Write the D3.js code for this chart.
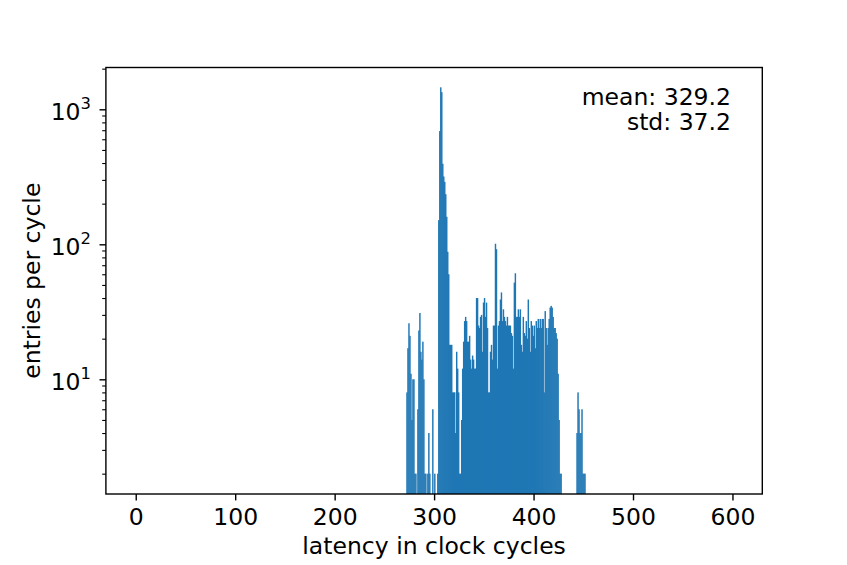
<!DOCTYPE html>
<html>
<head>
<meta charset="utf-8">
<script src="https://cdn.jsdelivr.net/npm/d3@7"></script>
<style>
  body { margin: 0; background: white; }
  text { font-family: "DejaVu Sans", sans-serif; fill: black; }
</style>
</head>
<body>
<div id="chart"></div>
<script>
var width = 847, height = 565;

// histogram of latencies, one bin per clock cycle, first bin = 272
var firstCycle = 272;
var counts = [
  8, 17, 26, 21, 11, 5, 10, 10, 2, 2,
  0, 6, 23, 31, 16, 14, 19, 10, 2, 2,
  0, 2, 4, 2, 0, 0, 6, 0, 2, 0,
  0, 2, 151, 690, 1455, 1340, 395, 318, 290, 235,
  160, 88, 60, 18, 18, 18, 8, 8, 8, 4,
  16, 12, 8, 2, 2, 5, 12, 19, 27, 29,
  27, 19, 19, 21, 14, 12, 15, 14, 12, 12,
  40, 40, 25, 24, 29, 30, 16, 37, 40, 29,
  37, 24, 8, 8, 16, 18, 14, 25, 25, 101,
  92, 12, 25, 27, 39, 44, 27, 33, 29, 27,
  25, 29, 25, 25, 25, 22, 21, 12, 52, 61,
  29, 29, 33, 29, 33, 18, 16, 29, 22, 21,
  27, 20, 39, 24, 16, 27, 25, 21, 25, 17,
  27, 24, 28, 24, 28, 24, 28, 28, 8, 32,
  24, 18, 24, 28, 34, 35, 34, 29, 24, 24,
  22, 20, 11, 5, 2, 2, 0, 0, 0, 0,
  0, 0, 0, 0, 0, 0, 0, 0, 0, 0,
  0, 4, 8, 6, 4, 4, 6, 2, 2, 2
];

var xTicks = [0, 100, 200, 300, 400, 500, 600];
var yMajor = [10, 100, 1000];
var yMinor = [2, 3, 4, 5, 6, 7, 8, 9, 20, 30, 40, 50, 60, 70, 80, 90,
              200, 300, 400, 500, 600, 700, 800, 900, 2000];
var statLines = ["mean: 329.2", "std: 37.2"];

// plot area (don't call it "top", window.top is read only)
var pLeft = 105.9, pRight = 762.3, pTop = 67.5, pBottom = 494;
var fs = 23.5;

var svg = d3.select('#chart').append('svg')
  .attr('width', width)
  .attr('height', height)
  .style('background-color', 'white');

var x = d3.scaleLinear().domain([-30, 630]).range([pLeft, pRight]);
var y = d3.scaleLog().domain([1.414, 2040]).range([pBottom, pTop]);

var bins = counts.map(function(c, i) { return { x0: firstCycle + i, n: c }; })
  .filter(function(d) { return d.n >= 2; });

// bars are ~1px wide; a small overlap keeps the seams from washing the colour out
svg.append('g').selectAll('rect')
  .data(bins)
  .enter().append('rect')
  .attr('x', function(d) { return x(d.x0); })
  .attr('width', function(d) { return x(d.x0 + 1) - x(d.x0) + 0.45; })
  .attr('y', function(d) { return y(d.n); })
  .attr('height', function(d) { return pBottom - y(d.n); })
  .style('fill', '#1f77b4');

// x axis
var xAxis = svg.append('g')
  .attr('transform', 'translate(0,' + pBottom + ')')
  .call(d3.axisBottom(x).tickValues(xTicks).tickSize(6.4).tickPadding(8));
xAxis.select('.domain').remove();
xAxis.selectAll('line').attr('stroke', 'black').attr('stroke-width', 1.4);
xAxis.selectAll('text').style('font-size', fs + 'px').attr('font-family', null);

// y axis, minor then major
var yMinorAxis = svg.append('g')
  .attr('transform', 'translate(' + pLeft + ',0)')
  .call(d3.axisLeft(y).tickValues(yMinor).tickSize(3.7).tickFormat(''));
yMinorAxis.select('.domain').remove();
yMinorAxis.selectAll('line').attr('stroke', 'black').attr('stroke-width', 1.1);

var yAxis = svg.append('g')
  .attr('transform', 'translate(' + pLeft + ',0)')
  .call(d3.axisLeft(y).tickValues(yMajor).tickSize(6.4).tickFormat(''));
yAxis.select('.domain').remove();
yAxis.selectAll('line').attr('stroke', 'black').attr('stroke-width', 1.4);

var yLab = svg.append('g').selectAll('text')
  .data(yMajor)
  .enter().append('text')
  .attr('x', 91)
  .attr('y', function(d) { return y(d) + 10.7; })
  .attr('text-anchor', 'end')
  .style('font-size', fs + 'px');
yLab.append('tspan').text('10');
yLab.append('tspan')
  .attr('dy', -10.7)
  .style('font-size', '16.4px')
  .text(function(d) { return Math.round(Math.log10(d)); });

// frame
svg.append('rect')
  .attr('x', pLeft).attr('y', pTop)
  .attr('width', pRight - pLeft).attr('height', pBottom - pTop)
  .style('fill', 'none')
  .style('stroke', 'black')
  .style('stroke-width', 1.4);

// stats box
svg.append('g').selectAll('text')
  .data(statLines)
  .enter().append('text')
  .attr('x', 731)
  .attr('y', function(d, i) { return 104.5 + i * 25.8; })
  .attr('text-anchor', 'end')
  .style('font-size', fs + 'px')
  .text(function(d) { return d; });

// axis labels
svg.append('text')
  .attr('x', (pLeft + pRight) / 2)
  .attr('y', 554)
  .attr('text-anchor', 'middle')
  .style('font-size', fs + 'px')
  .text('latency in clock cycles');

svg.append('text')
  .attr('transform', 'translate(40,' + (pTop + pBottom) / 2 + ') rotate(-90)')
  .attr('text-anchor', 'middle')
  .style('font-size', fs + 'px')
  .text('entries per cycle');
</script>
</body>
</html>
